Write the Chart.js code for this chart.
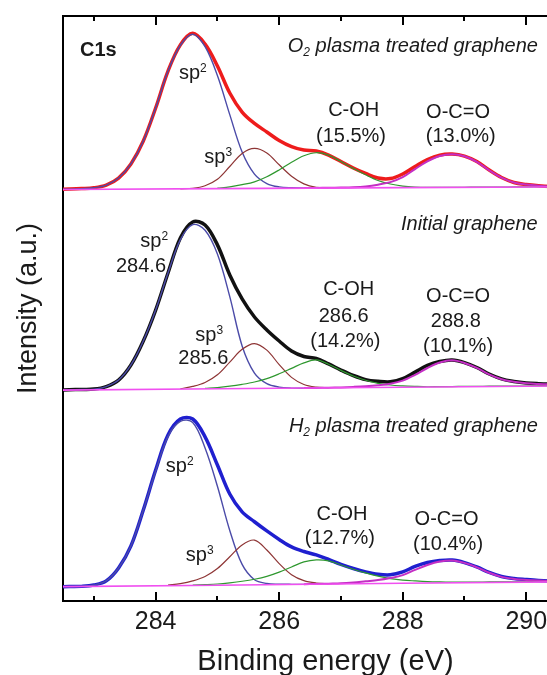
<!DOCTYPE html>
<html>
<head>
<meta charset="utf-8">
<script src="https://cdn.jsdelivr.net/npm/chart.js@4.4.1/dist/chart.umd.min.js"></script>
<style>
  html, body { margin: 0; padding: 0; background: #fff; overflow: hidden; }
  #wrap { width: 600px; height: 680px; }
</style>
</head>
<body>
<div id="wrap"><canvas id="xps"></canvas></div>
<script>
// === DATOS ===
const _ = null;

// energia de enlace (eV), rejilla comun
const energy = [282.4, 282.6, 282.8, 283.0, 283.2, 283.4, 283.6, 283.8, 284.0, 284.2,
  284.4, 284.6, 284.8, 285.0, 285.2, 285.4, 285.6, 285.8, 286.0, 286.2,
  286.4, 286.6, 286.8, 287.0, 287.2, 287.4, 287.6, 287.8, 288.0, 288.2,
  288.4, 288.6, 288.8, 289.0, 289.2, 289.4, 289.6, 289.8, 290.0, 290.2,
  290.4, 290.6, 290.8, 291.0];

const tickValues = [283, 284, 285, 286, 287, 288, 289, 290];

// desplazamiento vertical de cada espectro (a.u.)
const panelOffset = [242, 124, 8];

// --- O2 plasma ---
const o2Total = [0, 0.2, 0.5, 1, 2.6, 6.7, 15, 28.5, 47.9, 69.6,
  85, 91.8, 85.5, 72.6, 56.7, 45.5, 38.8, 33.8, 28.8, 25.2,
  23.2, 22.6, 20.2, 16.4, 12.6, 9.4, 6.7, 6.4, 9.1, 13.5,
  17.6, 20.2, 20.8, 19.6, 16.4, 11.4, 7, 4.1, 2.9, 2.2,
  1.8, 1.7, 1.6, 1.6];
const o2Sp2 = [0, 0.2, 0.5, 1, 2.6, 6.7, 15, 28.5, 47.9, 69.6,
  84.8, 91.3, 84, 67, 44, 22, 9, 3.5, 1.5, 1.0,
  0.9, _, _, _, _, _, _, _, _, _, _, _, _, _, _, _, _, _, _, _, _, _, _, _];
const o2Sp3 = [_, _, _, _, _, _, _, _, _, _,
  0.4, 0.7, 2.2, 6, 13.5, 21.2, 24.2, 21.5, 14.5, 7.8,
  3.3, 1.3, 0.9, _, _, _, _, _, _, _, _, _, _, _, _, _, _, _, _, _, _, _, _, _];
const o2Coh = [_, _, _, _, _, _, _, _, _, _, _, _, _,
  0.8, 1.5, 2.8, 4.5, 7.5, 11.5, 16, 19.8, 21.6, 20.2,
  16.4, 12.4, 8.6, 5.3, 3.2, 2.0, 1.4, 1.2, 1.3, 1.3,
  1.3, 1.4, 1.4, 1.4, 1.5, 1.5, 1.6, 1.6, 1.6, 1.7, 1.7];
const o2Occ = [_, _, _, _, _, _, _, _, _, _, _, _, _, _, _, _, _, _, _, _,
  0.9, 0.9, 1.0, 1.1, 1.3, 1.8, 2.8, 4.3, 7.2, 12,
  16.5, 19.7, 20.7, 19.5, 16.2, 11.3, 7, 4.1, 2.9, 2.2,
  1.8, 1.7, 1.6, 1.6];

// --- grafeno inicial ---
const initTotal = [0, 0.2, 0.4, 0.6, 2.1, 5.9, 14.8, 28.9, 47.1, 68.9,
  89.5, 98.9, 97.1, 85.4, 67.7, 53.6, 43, 35.4, 28.9, 23,
  19.8, 18.6, 15.4, 11.8, 8.6, 6.2, 5.2, 4.9, 6.7, 10.6,
  14.5, 16.8, 17.7, 16.2, 13.3, 9.5, 6.6, 5.1, 4.2, 3.8,
  3.6, 3.5, 3.4, 3.4];
const initSp2 = [0, 0.2, 0.4, 0.6, 2.1, 5.9, 14.8, 28.9, 47.1, 68.9,
  88.5, 97.3, 94, 80, 55, 26, 10, 3.8, 1.8, 1.2,
  1.1, _, _, _, _, _, _, _, _, _, _, _, _, _, _, _, _, _, _, _, _, _, _, _];
const initSp3 = [_, _, _, _, _, _, _, _, _, _,
  0.8, 2.2, 4.5, 9, 16.5, 24, 27.4, 23.5, 15, 7.5,
  3.3, 1.8, 1.5, _, _, _, _, _, _, _, _, _, _, _, _, _, _, _, _, _, _, _, _, _];
const initCoh = [_, _, _, _, _, _, _, _, _, _, _, _,
  1.0, 1.5, 2.3, 3.4, 4.8, 6.8, 9.6, 12.8, 16, 17.8,
  15.2, 11.6, 8.3, 5.8, 4.0, 3.0, 2.5, 2.2, 2.0, 2.1,
  2.1, 2.2, 2.2, 2.3, 2.3, 2.4, 2.4, 2.5, 2.5, 2.6, 2.6, 2.7];
const initOcc = [_, _, _, _, _, _, _, _, _, _, _, _, _, _, _, _, _, _, _, _,
  1.2, 1.3, 1.4, 1.6, 1.9, 2.3, 2.9, 3.8, 5.6, 9,
  13, 16.2, 17.5, 16, 13.1, 9.3, 6.4, 4.9, 4.0, 3.6,
  3.4, 3.3, 3.2, 3.2];

// --- H2 plasma ---
const h2Total = [0.4, 0.5, 0.6, 1.4, 3.8, 11.4, 24.4, 45.5, 69, 89.6,
  99, 99, 88.5, 72, 54.9, 44.4, 38.6, 33.2, 28.2, 23.8,
  21.1, 19.1, 16.4, 13.5, 11.1, 9.1, 7.7, 7.4, 9.1, 12.3,
  14.6, 15.8, 16.1, 14.6, 12, 8.8, 6.4, 5.2, 4.6, 4.1,
  3.8, 3.6, 3.6, 3.5];
const h2Sp2 = [0.4, 0.5, 0.6, 1.4, 3.8, 11.4, 24.4, 45.5, 68.5, 88.8,
  97.6, 97, 82, 59.5, 33.5, 13.5, 4.5, 2.3, 1.9, 1.8,
  1.8, _, _, _, _, _, _, _, _, _, _, _, _, _, _, _, _, _, _, _, _, _, _, _];
const h2Sp3 = [_, _, _, _, _, _, _, _, _,
  1.3, 2.2, 3.8, 6.4, 11.1, 18, 25, 27.8, 22, 14,
  7.5, 4, 2.6, 2.2, _, _, _, _, _, _, _, _, _, _, _, _, _, _, _, _, _, _, _, _, _];
const h2Coh = [_, _, _, _, _, _, _, _, _, _, _,
  1.3, 1.6, 2.0, 2.7, 3.6, 4.8, 6.5, 9, 12, 15,
  16.2, 15.6, 13.2, 10.7, 8.5, 6.6, 5.2, 4.3, 3.8, 3.4,
  3.2, 3.1, 3.1, 3.1, 3.2, 3.2, 3.3, 3.3, 3.4, 3.4, 3.5, 3.5, 3.6];
const h2Occ = [_, _, _, _, _, _, _, _, _, _, _, _, _, _, _, _, _, _, _, _,
  1.9, 2.0, 2.2, 2.4, 2.9, 3.6, 4.3, 5.5, 7.2, 10.3,
  13.2, 15.2, 15.8, 14.4, 11.8, 8.6, 6.2, 5.0, 4.4, 4.0,
  3.7, 3.5, 3.5, 3.4];

// fondo (linea magenta)
const bgEnergy = [282.4, 285.0, 288.0, 291.0];
const o2Bg = [0, 0.5, 1.1, 1.6];
const initBg = [0, 0.8, 1.7, 2.6];
const h2Bg = [0.4, 1.3, 2.4, 3.4];

// === ESTILO ===
const FONT = "'Liberation Sans', Arial, sans-serif";
const TEXT = "#1a1a1a";
const envelopeColors = ["#ee1c1c", "#111111", "#1f1fcf"];
const compStyle = {
  sp2: { color: "#4b4ba8", width: 1.4, order: 5 },
  sp3: { color: "#8e3535", width: 1.2, order: 4 },
  coh: { color: "#2f982f", width: 1.2, order: 3 },
  occ: { color: "#c42ec4", width: 2, order: 2 }
};

const panels = [
  { total: o2Total, sp2: o2Sp2, sp3: o2Sp3, coh: o2Coh, occ: o2Occ, bg: o2Bg },
  { total: initTotal, sp2: initSp2, sp3: initSp3, coh: initCoh, occ: initOcc, bg: initBg },
  { total: h2Total, sp2: h2Sp2, sp3: h2Sp3, coh: h2Coh, occ: h2Occ, bg: h2Bg }
];

// etiquetas: x en eV, y en a.u.
const peakLabels = [
  { x: 282.775, y: 320.5, align: "left", bold: true, parts: [["C1s"]] },
  { x: 290.19, y: 322.8, align: "right", italic: true, parts: [["O"], ["2", "sub"], [" plasma treated graphene"]] },
  { x: 284.378, y: 306.9, align: "left", parts: [["sp"], ["2", "sup"]] },
  { x: 284.788, y: 257.7, align: "left", parts: [["sp"], ["3", "sup"]] },
  { x: 287.207, y: 285.2, align: "center", parts: [["C-OH"]] },
  { x: 287.163, y: 269.9, align: "center", parts: [["(15.5%)"]] },
  { x: 288.896, y: 283.8, align: "center", parts: [["O-C=O"]] },
  { x: 288.94, y: 269.7, align: "center", parts: [["(13.0%)"]] },

  { x: 290.186, y: 218.2, align: "right", italic: true, parts: [["Initial graphene"]] },
  { x: 283.752, y: 208, align: "left", parts: [["sp"], ["2", "sup"]] },
  { x: 284.168, y: 193.3, align: "right", parts: [["284.6"]] },
  { x: 284.642, y: 153.1, align: "left", parts: [["sp"], ["3", "sup"]] },
  { x: 284.772, y: 139.4, align: "center", parts: [["285.6"]] },
  { x: 287.126, y: 179.9, align: "center", parts: [["C-OH"]] },
  { x: 287.045, y: 164.2, align: "center", parts: [["286.6"]] },
  { x: 287.071, y: 149.2, align: "center", parts: [["(14.2%)"]] },
  { x: 288.896, y: 176, align: "center", parts: [["O-C=O"]] },
  { x: 288.86, y: 161.3, align: "center", parts: [["288.8"]] },
  { x: 288.896, y: 146.6, align: "center", parts: [["(10.1%)"]] },

  { x: 290.19, y: 99.6, align: "right", italic: true, parts: [["H"], ["2", "sub"], [" plasma treated graphene"]] },
  { x: 284.164, y: 76, align: "left", parts: [["sp"], ["2", "sup"]] },
  { x: 284.488, y: 23.5, align: "left", parts: [["sp"], ["3", "sup"]] },
  { x: 287.017, y: 47.6, align: "center", parts: [["C-OH"]] },
  { x: 286.982, y: 33.3, align: "center", parts: [["(12.7%)"]] },
  { x: 288.71, y: 44.7, align: "center", parts: [["O-C=O"]] },
  { x: 288.734, y: 30, align: "center", parts: [["(10.4%)"]] }
];

// === FUNCIONES ===
function toPoints(xs, vals, offset) {
  return xs.map((e, i) => ({ x: e, y: vals[i] == null ? null : vals[i] + offset }));
}

function buildDatasets() {
  const sets = [];
  panels.forEach((p, k) => {
    const off = panelOffset[k];
    sets.push({
      data: toPoints(energy, p.total, off),
      borderColor: envelopeColors[k], borderWidth: 3.5, order: 6, tension: 0.35
    });
    ["sp2", "sp3", "coh", "occ"].forEach((c) => {
      sets.push({
        data: toPoints(energy, p[c], off),
        borderColor: compStyle[c].color, borderWidth: compStyle[c].width,
        order: compStyle[c].order, tension: 0.35
      });
    });
    sets.push({
      data: toPoints(bgEnergy, p.bg, off),
      borderColor: "#f050f0", borderWidth: 1.6, order: 1, tension: 0
    });
  });
  return sets;
}

// marcas de eje hacia adentro (abajo y arriba)
const innerTicks = {
  id: "innerTicks",
  afterDraw(chart) {
    const { ctx, chartArea, scales } = chart;
    ctx.save();
    ctx.strokeStyle = "#000";
    ctx.lineWidth = 2;
    tickValues.forEach((v) => {
      const px = Math.round(scales.x.getPixelForValue(v));
      const len = v % 2 === 0 ? 9 : 5;
      ctx.beginPath();
      ctx.moveTo(px, chartArea.bottom);
      ctx.lineTo(px, chartArea.bottom - len);
      ctx.moveTo(px, chartArea.top);
      ctx.lineTo(px, chartArea.top + len);
      ctx.stroke();
    });
    ctx.restore();
  }
};

function partFont(lbl, part) {
  const size = part[1] ? 12 : 20;
  return (lbl.italic ? "italic " : "") + (lbl.bold ? "bold " : "") + size + "px " + FONT;
}

const labelPlugin = {
  id: "peakLabels",
  afterDatasetsDraw(chart) {
    const { ctx, scales } = chart;
    ctx.save();
    ctx.fillStyle = TEXT;
    ctx.textBaseline = "alphabetic";
    ctx.textAlign = "left";
    peakLabels.forEach((lbl) => {
      const x = scales.x.getPixelForValue(lbl.x);
      const y = scales.y.getPixelForValue(lbl.y);
      const widths = lbl.parts.map((p) => { ctx.font = partFont(lbl, p); return ctx.measureText(p[0]).width; });
      const total = widths.reduce((a, b) => a + b, 0);
      let cx = lbl.align === "left" ? x : lbl.align === "right" ? x - total : x - total / 2;
      lbl.parts.forEach((p, i) => {
        ctx.font = partFont(lbl, p);
        const dy = p[1] === "sup" ? -7 : p[1] === "sub" ? 4 : 0;
        ctx.fillText(p[0], cx, y + dy);
        cx += widths[i];
      });
    });
    ctx.restore();
  }
};

// === GRAFICA ===
const border = { display: true, color: "#000", width: 2 };

new Chart(document.getElementById("xps").getContext("2d"), {
  type: "line",
  data: { datasets: buildDatasets() },
  options: {
    responsive: true,
    maintainAspectRatio: false,
    animation: false,
    layout: { padding: { left: 0, top: 0, right: 12, bottom: 0 } },
    elements: { point: { radius: 0 } },
    plugins: { legend: { display: false }, tooltip: { enabled: false } },
    scales: {
      x: {
        type: "linear", position: "bottom", min: 282.5, max: 291,
        afterBuildTicks: (s) => { s.ticks = tickValues.map((v) => ({ value: v })); },
        afterFit: (s) => { s.height = 79; },
        ticks: {
          autoSkip: false, maxRotation: 0, padding: 6, color: TEXT,
          font: { family: FONT, size: 25 },
          callback: (v) => (v % 2 === 0 ? String(v) : "")
        },
        grid: { display: false, drawTicks: false },
        border: border,
        title: {
          display: true, text: "Binding energy (eV)", color: TEXT,
          font: { family: FONT, size: 29 }, padding: { top: 0, bottom: 1 }
        }
      },
      xTop: {
        type: "linear", position: "top", min: 282.5, max: 291,
        afterFit: (s) => { s.height = 16; },
        ticks: { display: false },
        grid: { display: false, drawTicks: false },
        border: border
      },
      y: {
        min: 0, max: 344,
        afterFit: (s) => { s.width = 63; },
        ticks: { display: false },
        grid: { display: false, drawTicks: false },
        border: border,
        title: {
          display: true, text: "Intensity (a.u.)", color: TEXT,
          font: { family: FONT, size: 27 }, padding: { top: 12, bottom: 0 }
        }
      }
    }
  },
  plugins: [innerTicks, labelPlugin]
});
</script>
</body>
</html>
